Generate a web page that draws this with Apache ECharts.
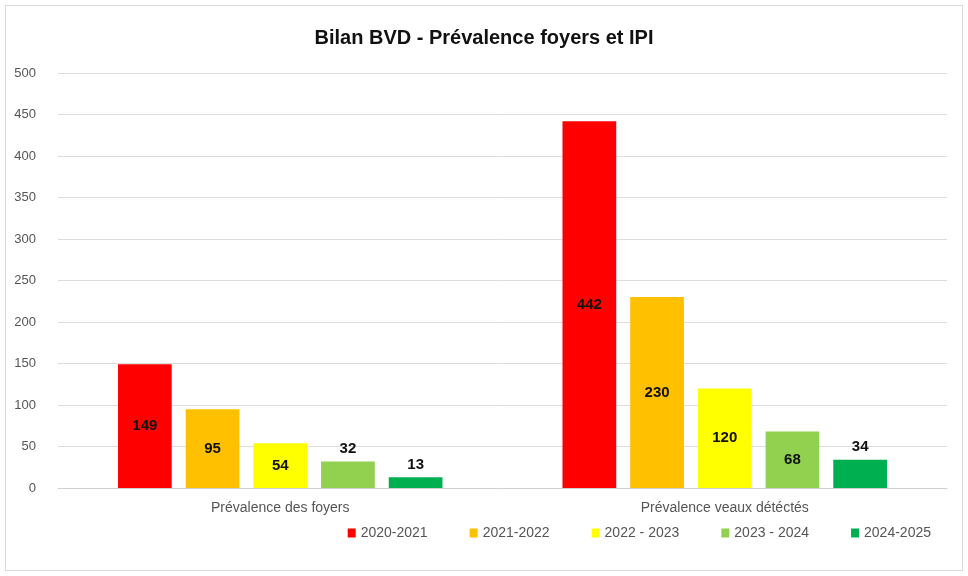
<!DOCTYPE html>
<html>
<head>
<meta charset="utf-8">
<script src="https://cdn.jsdelivr.net/npm/echarts@6/dist/echarts.min.js"></script>
<style>
  html, body { margin: 0; padding: 0; background: #fff; }
  #chart { position: absolute; left: 5px; top: 5px; width: 956px; height: 564px; border: 1px solid #d9d9d9; }
</style>
</head>
<body>
<div id="chart"></div>
<script>
const categories = ['Prévalence des foyers', 'Prévalence veaux détéctés']
const seasons = ['2020-2021', '2021-2022', '2022 - 2023', '2023 - 2024', '2024-2025']
const colors = ['#ff0000', '#ffc000', '#ffff00', '#92d050', '#00b050']
const values = [
    [149, 442],
    [95, 230],
    [54, 120],
    [32, 68],
    [13, 34]
]
// étiquettes au-dessus de la barre (sinon au centre)
const labelsOnTop = [
    [false, false],
    [false, false],
    [false, false],
    [true, false],
    [true, true]
]
const yTicks = { min: 0, max: 500, interval: 50 }

const font = "'Liberation Sans', sans-serif"
const chart = echarts.init(document.getElementById('chart'))

const series = seasons.map((name, i) => ({
    name,
    type: 'bar',
    barGap: '26%',
    barCategoryGap: '27%',
    itemStyle: { color: colors[i] },
    data: values[i].map((v, j) => ({
        value: v,
        label: {
            show: true,
            position: labelsOnTop[i][j] ? 'top' : 'inside',
            color: '#111',
            fontWeight: 'bold',
            fontSize: 15,
            fontFamily: font
        }
    }))
}))

chart.setOption({
    animation: false,
    title: {
        text: 'Bilan BVD - Prévalence foyers et IPI',
        left: 'center',
        top: 17,
        textStyle: { fontSize: 20, fontWeight: 'bold', color: '#111', fontFamily: font }
    },
    legend: {
        data: seasons,
        right: 26,
        bottom: 25,
        icon: 'rect',
        itemWidth: 8,
        itemHeight: 9,
        itemGap: 42,
        textStyle: { color: '#555', fontSize: 14, fontFamily: font }
    },
    grid: { left: 52, right: 15, top: 67, bottom: 82 },
    xAxis: {
        type: 'category',
        data: categories,
        axisLine: { lineStyle: { color: '#d0d0d0' } },
        axisTick: { show: false },
        axisLabel: { color: '#555', fontSize: 14, margin: 13, fontFamily: font }
    },
    yAxis: {
        type: 'value',
        min: yTicks.min,
        max: yTicks.max,
        interval: yTicks.interval,
        axisLine: { show: false },
        axisTick: { show: false },
        splitLine: { lineStyle: { color: '#dcdcdc' } },
        axisLabel: { color: '#555', fontSize: 13, margin: 22, fontFamily: font }
    },
    series
})
</script>
</body>
</html>
